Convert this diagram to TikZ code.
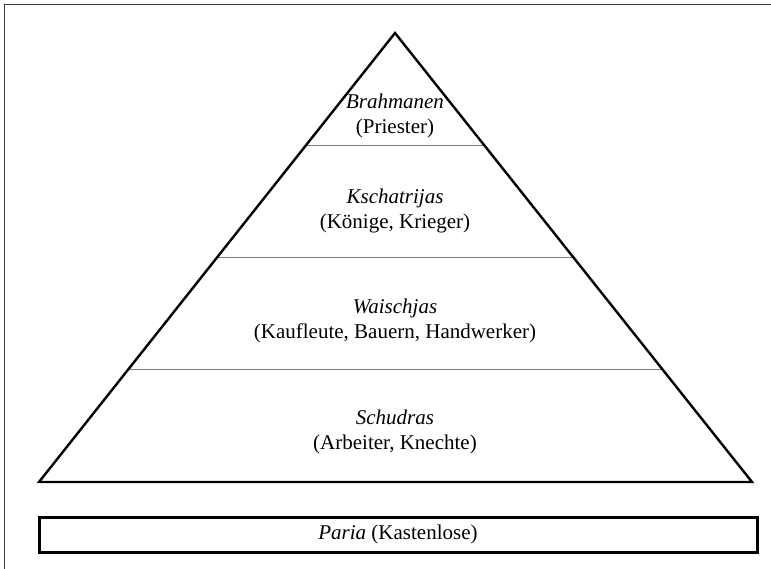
\documentclass[tikz,border=0pt]{standalone}
\usepackage{fontspec}
\setmainfont{Liberation Serif}
\usetikzlibrary{calc}
\definecolor{framegray}{HTML}{3A3A3A}
\definecolor{rulegray}{HTML}{7A7A7A}
\begin{document}
\begin{tikzpicture}[x=1pt,y=-1pt,
  pyramid/.style={line width=2.4pt, line join=miter, draw=black},
  divider/.style={line width=1.4pt, draw=rulegray},
  caste/.style={align=center, inner sep=0pt, font=\fontsize{21}{24.5}\selectfont},
  outcast/.style={draw=black, line width=3pt, minimum width=718pt, minimum height=35pt,
                  inner sep=0pt, font=\fontsize{21}{24.5}\selectfont}]
  \useasboundingbox (0,0) rectangle (771,569);
  % page frame, open towards the right and bottom
  \draw[framegray, line width=1.8pt] (4.5,569) -- (4.5,4.5) -- (771,4.5);

  % pyramid corners
  \coordinate (apex) at (395,33);
  \coordinate (bl) at (39,482);
  \coordinate (br) at (752,482);

  % layer boundaries at quarter heights
  \foreach \t/\n in {0.25/a,0.5/b,0.75/c}{
    \coordinate (\n L) at ($(apex)!\t!(bl)$);
    \coordinate (\n R) at ($(apex)!\t!(br)$);
  }
  \draw[divider] (aL) -- (aR);
  \draw[divider] (bL) -- (bR);
  \draw[divider] (cL) -- (cR);

  \draw[pyramid] (apex) -- (br) -- (bl) -- cycle;

  % caste labels
  \node[caste] (brahmanen) at (395,116) {\textit{Brahmanen}\\(Priester)};
  \node[caste] (kschatrijas) at (395,211) {\textit{Kschatrijas}\\(Könige, Krieger)};
  \node[caste] (waischjas) at (395,321) {\textit{Waischjas}\\(Kaufleute, Bauern, Handwerker)};
  \node[caste] (schudras) at (395,432) {\textit{Schudras}\\(Arbeiter, Knechte)};

  % outcasts below the pyramid
  \node[outcast] (paria) at (398,534.5) {\textit{Paria} (Kastenlose)};
\end{tikzpicture}
\end{document}
